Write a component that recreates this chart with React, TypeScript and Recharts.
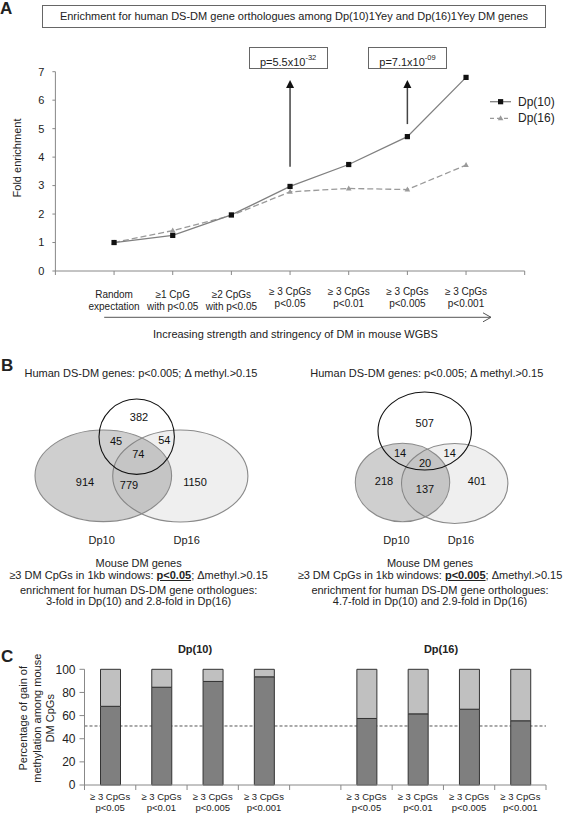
import React from 'react';
import {
  LineChart, Line, XAxis, YAxis, ReferenceLine, ReferenceDot,
  BarChart, Bar, ScatterChart, Scatter,
} from 'recharts';

const FONT = '"Liberation Sans", Arial, Helvetica, sans-serif';

// ---------------- Panel A data ----------------
const stringencyLabels: string[][] = [
  ['Random', 'expectation'],
  ['≥1 CpG', 'with p<0.05'],
  ['≥2 CpGs', 'with p<0.05'],
  ['≥ 3 CpGs', 'p<0.05'],
  ['≥ 3 CpGs', 'p<0.01'],
  ['≥ 3 CpGs', 'p<0.005'],
  ['≥ 3 CpGs', 'p<0.001'],
];
const dp10Enrichment = [1.0, 1.25, 1.97, 2.97, 3.74, 4.72, 6.8];
const dp16Enrichment = [1.0, 1.42, 1.95, 2.78, 2.9, 2.86, 3.72];
const seriesNames = ['Dp(10)', 'Dp(16)'];
const pValueBase = ['p=5.5x10', 'p=7.1x10'];
const pValueExp = ['-32', '-09'];
const arrowCategory = [4, 6];
const arrowFrom = [3.66, 5.16];
const arrowTo = 6.71;

// ---------------- Panel B data ----------------
// region order: human only, human∩Dp10, human∩Dp16, all three, Dp10 only, Dp10∩Dp16, Dp16 only
const vennLeftCounts = [382, 45, 54, 74, 914, 779, 1150];
const vennRightCounts = [507, 14, 14, 20, 218, 137, 401];

// ---------------- Panel C data ----------------
const cThresholds = ['p<0.05', 'p<0.01', 'p<0.005', 'p<0.001'];
const dp10Gain = [68, 84.5, 89.5, 93.5];
const dp16Gain = [57.5, 61.5, 65.5, 55.5];
const halfLine = 51;

// ---------------- derived tables ----------------
const aData = dp10Enrichment.map((v, i) => ({ pos: i + 1, dp10: v, dp16: dp16Enrichment[i] }));

const cLabels: string[] = [...cThresholds, '', ...cThresholds];
const cData = [
  ...dp10Gain.map((g, i) => ({ slot: `a${i}`, gain: g, loss: 100 - g })),
  { slot: 'gap', gain: null, loss: null },
  ...dp16Gain.map((g, i) => ({ slot: `b${i}`, gain: g, loss: 100 - g })),
];

// Venn layout (chart-unit positions, 1 unit = 1px)
const VENN_L_SETS = [
  { x: 180.3, y: 96, rx: 67.6, ry: 46, fill: '#efefef', stroke: '#8a8a8a' },
  { x: 103.3, y: 95.8, rx: 68.3, ry: 45.8, fill: 'rgba(130,130,130,0.38)', stroke: '#8a8a8a' },
  { x: 136.7, y: 56.7, rx: 37.7, ry: 37.7, fill: 'none', stroke: '#111' },
];
const VENN_L_REGIONS = [
  { x: 139, y: 36.7 }, { x: 116, y: 60.7 }, { x: 164.3, y: 60 }, { x: 138.3, y: 74 },
  { x: 85, y: 102.3 }, { x: 129, y: 105 }, { x: 195, y: 102.3 },
];
const VENN_R_SETS = [
  { x: 167.7, y: 103.5, rx: 53.2, ry: 40, fill: '#efefef', stroke: '#8a8a8a' },
  { x: 115.5, y: 102.5, rx: 47.2, ry: 39.2, fill: 'rgba(130,130,130,0.38)', stroke: '#8a8a8a' },
  { x: 137.7, y: 51, rx: 46.7, ry: 39, fill: 'none', stroke: '#111' },
];
const VENN_R_REGIONS = [
  { x: 137.7, y: 42.7 }, { x: 113, y: 73.3 }, { x: 162.7, y: 73.3 }, { x: 138, y: 83.5 },
  { x: 97, y: 101.5 }, { x: 138, y: 109 }, { x: 190, y: 101.5 },
];

// ---------------- helpers ----------------
function T(props: { x: number; y: number; size?: number; bold?: boolean; anchor?: 'middle' | 'start' | 'end'; children: React.ReactNode; color?: string }) {
  const { x, y, size = 11, bold, anchor = 'middle', children, color = '#222' } = props;
  const w = 600;
  const left = anchor === 'middle' ? x - w / 2 : anchor === 'start' ? x : x - w;
  return (
    <div style={{
      position: 'absolute', left, top: y - size * 0.6, width: w,
      textAlign: anchor === 'middle' ? 'center' : anchor === 'start' ? 'left' : 'right',
      fontSize: size, lineHeight: `${size * 1.2}px`, fontWeight: bold ? 'bold' : 'normal',
      whiteSpace: 'nowrap', color, fontFamily: FONT,
    }}>{children}</div>
  );
}

const SquareDot = (p: any) => (
  <rect key={`sq-${p.index}`} x={p.cx - 2.6} y={p.cy - 2.6} width={5.2} height={5.2} fill="#111" />
);
const TriDot = (p: any) => (
  <polygon key={`tr-${p.index}`} points={`${p.cx},${p.cy - 3} ${p.cx - 2.8},${p.cy + 2} ${p.cx + 2.8},${p.cy + 2}`} fill="#9a9a9a" />
);

const ATick = (props: any) => {
  const { x, y, payload } = props;
  const lab = stringencyLabels[payload.value - 1];
  if (!lab) return <g />;
  const d1 = payload.value <= 3 ? 23 : 20.3;
  return (
    <g>
      <text x={x} y={y + d1} textAnchor="middle" fontSize={10} fill="#222" fontFamily={FONT}>{lab[0]}</text>
      <text x={x} y={y + d1 + 12} textAnchor="middle" fontSize={10} fill="#222" fontFamily={FONT}>{lab[1]}</text>
    </g>
  );
};

const CTick = (props: any) => {
  const { x, y, payload, index } = props;
  const half = payload && payload.offset ? payload.offset : 0;
  const th = cLabels[index];
  return (
    <g>
      <line x1={x - half} y1={y} x2={x - half} y2={y + 5} stroke="#888" />
      {index === cLabels.length - 1 ? <line x1={x + half} y1={y} x2={x + half} y2={y + 5} stroke="#888" /> : null}
      {th ? (
        <>
          <text x={x} y={y + 15} textAnchor="middle" fontSize={9.5} fill="#222" fontFamily={FONT}>≥ 3 CpGs</text>
          <text x={x} y={y + 26} textAnchor="middle" fontSize={9.5} fill="#222" fontFamily={FONT}>{th}</text>
        </>
      ) : null}
    </g>
  );
};

const ArrowHead = (p: any) => (
  <polygon points={`${p.cx},${p.cy} ${p.cx - 4},${p.cy + 8} ${p.cx + 4},${p.cy + 8}`} fill="#111" />
);

const SetShape = (p: any) => (
  <ellipse cx={p.cx} cy={p.cy} rx={p.payload.rx} ry={p.payload.ry} fill={p.payload.fill} stroke={p.payload.stroke} strokeWidth={1.1} />
);
const RegionShape = (p: any) => (
  <text x={p.cx} y={p.cy} dy="0.36em" textAnchor="middle" fontSize={11} fill="#111" fontFamily={FONT}>{p.payload.count}</text>
);

function Venn(props: { left: number; top: number; sets: any[]; regions: any[]; counts: number[] }) {
  const regionData = props.regions.map((r, i) => ({ ...r, count: props.counts[i] }));
  return (
    <div style={{ position: 'absolute', left: props.left, top: props.top }}>
      <ScatterChart width={280} height={180} margin={{ top: 0, right: 0, bottom: 0, left: 0 }}>
        <XAxis type="number" dataKey="x" domain={[0, 280]} hide height={0} />
        <YAxis type="number" dataKey="y" domain={[0, 180]} reversed hide width={0} />
        <Scatter data={props.sets} shape={SetShape} isAnimationActive={false} />
        <Scatter data={regionData} shape={RegionShape} isAnimationActive={false} />
      </ScatterChart>
    </div>
  );
}

export default function App() {
  return (
    <div style={{ position: 'absolute', left: 0, top: 0, width: 567, height: 815, overflow: 'hidden', background: '#fff', fontFamily: FONT }}>
      {/* ============ Panel A ============ */}
      <T x={0} y={9.5} size={17} bold anchor="start">A</T>
      <div style={{
        position: 'absolute', left: 41.6, top: 4.7, width: 504.8, height: 23.3, boxSizing: 'border-box',
        border: '1px solid #666', textAlign: 'center', fontSize: 11, lineHeight: '21px', color: '#222', fontFamily: FONT,
      }}>
        Enrichment for human DS-DM gene orthologues among Dp(10)1Yey and Dp(16)1Yey DM genes
      </div>
      {pValueBase.map((b, i) => (
        <div key={b} style={{
          position: 'absolute', left: i === 0 ? 248.6 : 368, top: 46.7, width: 79, height: 22.6, boxSizing: 'border-box',
          border: '1px solid #666', textAlign: 'center', fontSize: 11, lineHeight: '21px', color: '#222', fontFamily: FONT,
        }}>
          {b}<sup style={{ fontSize: 7.5, position: 'relative', top: -1 }}>{pValueExp[i]}</sup>
        </div>
      ))}

      <div style={{ position: 'absolute', left: 0, top: 0 }}>
        <LineChart width={567} height={315} data={aData} margin={{ top: 71.7, right: 42.3, left: 11.4, bottom: 14 }}>
          <XAxis type="number" dataKey="pos" domain={[0, 8]} ticks={[0, 1, 2, 3, 4, 5, 6, 7, 8]} interval={0}
            height={30} stroke="#888" tickSize={4} tickMargin={0} tick={ATick} />
          <YAxis type="number" domain={[0, 7]} ticks={[0, 1, 2, 3, 4, 5, 6, 7]} interval={0} width={44}
            stroke="#888" tickSize={3} tickMargin={8} tick={{ fontSize: 11, fill: '#222', fontFamily: FONT }} />
          {arrowCategory.map((c, i) => (
            <ReferenceLine key={`al${i}`} segment={[{ x: c, y: arrowFrom[i] }, { x: c, y: arrowTo - 0.1 }]} stroke="#444" strokeWidth={1.5} />
          ))}
          {arrowCategory.map((c, i) => (
            <ReferenceDot key={`ad${i}`} x={c} y={arrowTo} r={4} shape={ArrowHead} />
          ))}
          <Line type="linear" dataKey="dp16" name={seriesNames[1]} stroke="#9a9a9a" strokeWidth={1.3} strokeDasharray="6 3"
            dot={TriDot} isAnimationActive={false} />
          <Line type="linear" dataKey="dp10" name={seriesNames[0]} stroke="#808080" strokeWidth={1.3}
            dot={SquareDot} isAnimationActive={false} />
        </LineChart>
      </div>

      {/* legend */}
      <svg style={{ position: 'absolute', left: 486, top: 94 }} width={30} height={32}>
        <line x1={4} y1={7.7} x2={25} y2={7.7} stroke="#808080" strokeWidth={1.3} />
        <rect x={12} y={5.1} width={5.2} height={5.2} fill="#111" />
        <line x1={4} y1={24.3} x2={25} y2={24.3} stroke="#9a9a9a" strokeWidth={1.3} strokeDasharray="4 3" />
        <polygon points="14.6,21.3 11.8,26.3 17.4,26.3" fill="#9a9a9a" />
      </svg>
      <T x={518} y={101.7} size={12} anchor="start">{seriesNames[0]}</T>
      <T x={518} y={118.3} size={12} anchor="start">{seriesNames[1]}</T>

      {/* y label */}
      <div style={{
        position: 'absolute', left: 16.6 - 60, top: 158 - 7, width: 120, height: 14, textAlign: 'center',
        fontSize: 11, lineHeight: '14px', color: '#222', transform: 'rotate(-90deg)', fontFamily: FONT, whiteSpace: 'nowrap',
      }}>Fold enrichment</div>

      {/* stringency arrow */}
      <svg style={{ position: 'absolute', left: 0, top: 300 }} width={567} height={30}>
        <line x1={104.2} y1={17.3} x2={491} y2={17.3} stroke="#555" strokeWidth={1} />
        <polyline points="483,12.8 491,17.3 483,21.8" fill="none" stroke="#555" strokeWidth={1} />
      </svg>
      <T x={295.5} y={335} size={11}>Increasing strength and stringency of DM in mouse WGBS</T>

      {/* ============ Panel B ============ */}
      <T x={1} y={366} size={17} bold anchor="start">B</T>
      <T x={141} y={374} size={11}>Human DS-DM genes: p&lt;0.005; Δ methyl.&gt;0.15</T>
      <T x={426.8} y={374} size={11}>Human DS-DM genes: p&lt;0.005; Δ methyl.&gt;0.15</T>

      <Venn left={0} top={380} sets={VENN_L_SETS} regions={VENN_L_REGIONS} counts={vennLeftCounts} />
      <Venn left={287} top={380} sets={VENN_R_SETS} regions={VENN_R_REGIONS} counts={vennRightCounts} />

      <T x={101.7} y={541} size={11}>Dp10</T>
      <T x={186.7} y={541} size={11}>Dp16</T>
      <T x={396.5} y={541} size={11}>Dp10</T>
      <T x={461} y={541} size={11}>Dp16</T>

      <T x={138.6} y={563.3} size={11}>Mouse DM genes</T>
      <T x={138.6} y={576} size={11}>≥3 DM CpGs in 1kb windows: <b><u>p&lt;0.05</u></b>; Δmethyl.&gt;0.15</T>
      <T x={138.6} y={590.7} size={11}>enrichment for human DS-DM gene orthologues:</T>
      <T x={138.6} y={602} size={11}>3-fold in Dp(10) and 2.8-fold in Dp(16)</T>

      <T x={430} y={563.3} size={11}>Mouse DM genes</T>
      <T x={430} y={576} size={11}>≥3 DM CpGs in 1kb windows: <b><u>p&lt;0.005</u></b>; Δmethyl.&gt;0.15</T>
      <T x={430} y={590.7} size={11}>enrichment for human DS-DM gene orthologues:</T>
      <T x={430} y={602} size={11}>4.7-fold in Dp(10) and 2.9-fold in Dp(16)</T>

      {/* ============ Panel C ============ */}
      <T x={1} y={657} size={17} bold anchor="start">C</T>
      <T x={195} y={650} size={11} bold>{seriesNames[0]}</T>
      <T x={441} y={650} size={11} bold>{seriesNames[1]}</T>

      <div style={{ position: 'absolute', left: 0, top: 640 }}>
        <BarChart width={567} height={175} data={cData} margin={{ top: 29.3, right: 21, left: 44.5, bottom: 0 }} barSize={20}>
          <XAxis xAxisId="cat" dataKey="slot" interval={0} height={30} stroke="#888"
            tickLine={false} tickSize={0} tickMargin={0} tick={CTick} />
          <YAxis type="number" domain={[0, 100]} ticks={[0, 20, 40, 60, 80, 100]} interval={0} width={40}
            stroke="#888" tickSize={5} tickMargin={4} tick={{ fontSize: 12, fill: '#222', fontFamily: FONT }} />
          <ReferenceLine xAxisId="cat" y={halfLine} stroke="#555" strokeDasharray="3 2" zIndex={250} />
          <Bar xAxisId="cat" dataKey="gain" stackId="s" fill="#7f7f7f" stroke="#333" strokeWidth={1} isAnimationActive={false} />
          <Bar xAxisId="cat" dataKey="loss" stackId="s" fill="#c0c0c0" stroke="#333" strokeWidth={1} isAnimationActive={false} />
        </BarChart>
      </div>

      <div style={{
        position: 'absolute', left: 37 - 90, top: 718 - 20.25, width: 180, height: 40.5, textAlign: 'center',
        fontSize: 11, lineHeight: '13.5px', color: '#222', transform: 'rotate(-90deg)', fontFamily: FONT, whiteSpace: 'nowrap',
      }}>Percentage of gain of<br />methylation among mouse<br />DM CpGs</div>
    </div>
  );
}
